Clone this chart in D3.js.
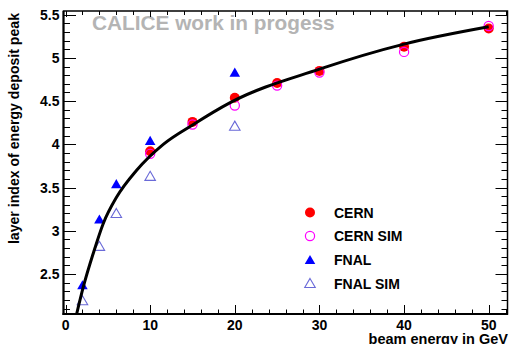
<!DOCTYPE html>
<html>
<head>
<meta charset="utf-8">
<script src="https://cdn.jsdelivr.net/npm/d3@7"></script>
<style>
  body { margin: 0; background: #fff; }
  svg { display: block; font-family: "Liberation Sans", Arial, sans-serif; font-weight: bold; }
</style>
</head>
<body>
<script>
// beam energies (GeV) and layer index of peak
var cernE = [10, 15, 20, 25, 30, 40, 50]
var cernY = [3.92, 4.26, 4.54, 4.71, 4.85, 5.13, 5.34]
var cernSimE = [10, 15, 20, 25, 30, 40, 50]
var cernSimY = [3.89, 4.23, 4.45, 4.68, 4.83, 5.07, 5.37]
var fnalE = [2, 4, 6, 10, 20]
var fnalY = [2.37, 3.13, 3.54, 4.04, 4.83]
var fnalSimE = [2, 4, 6, 10, 20]
var fnalSimY = [2.19, 2.82, 3.20, 3.63, 4.21]
// fit curve
var fitE = [1.32, 2.1, 3.28, 4.46, 6.04, 8.4, 11.55, 15.1, 19.4, 30, 40, 50]
var fitY = [2.04, 2.35, 2.74, 3.085, 3.39, 3.70, 4.0, 4.23, 4.48, 4.87, 5.16, 5.36]

var xTicks = [0, 10, 20, 30, 40, 50]
var yTicks = [2.5, 3, 3.5, 4, 4.5, 5, 5.5]
var legendNames = ['CERN', 'CERN SIM', 'FNAL', 'FNAL SIM']

var W = 509, H = 344
var padL = 63.5, padR = 508, padT = 11, padB = 314

var svg = d3.select(document.body).append('svg')
  .attr('width', W).attr('height', H)

var x = d3.scaleLinear().domain([-0.24, 52.28]).range([padL, padR])
var y = d3.scaleLinear().domain([2.037, 5.543]).range([padB, padT])

svg.append('clipPath').attr('id', 'clip').append('rect')
  .attr('x', padL).attr('y', padT).attr('width', padR - padL).attr('height', padB - padT)

// watermark
svg.append('text').attr('x', 92).attr('y', 30)
  .attr('font-size', 20.8).attr('fill', '#b4b4b4')
  .text('CALICE work in progess')

// ticks
var xMinor = d3.range(0, 52.3, 2)
var yMinor = d3.range(2.1, 5.55, 0.1)
var tk = svg.append('g').attr('stroke', '#000').attr('stroke-width', 1)
xMinor.forEach(function(v) {
  var major = xTicks.indexOf(Math.round(v)) >= 0
  var px = Math.round(x(v)) + 0.5
  tk.append('line').attr('x1', px).attr('x2', px).attr('y1', padB).attr('y2', padB - (major ? 9 : 4.5))
  tk.append('line').attr('x1', px).attr('x2', px).attr('y1', padT).attr('y2', padT + (major ? 6 : 4))
})
yMinor.forEach(function(v) {
  var major = Math.abs(v * 2 - Math.round(v * 2)) < 0.01
  var py = Math.round(y(v)) + 0.5
  tk.append('line').attr('x1', padL).attr('x2', padL + (major ? 12.5 : 6.5)).attr('y1', py).attr('y2', py)
  tk.append('line').attr('x1', padR).attr('x2', padR - (major ? 12.5 : 6.5)).attr('y1', py).attr('y2', py)
})

// frame
svg.append('rect').attr('x', padL).attr('y', padT).attr('width', padR - padL - 0.5).attr('height', padB - padT)
  .attr('fill', 'none').attr('stroke', '#000').attr('stroke-width', 1.5)
svg.append('line').attr('x1', padL).attr('x2', padL).attr('y1', padT).attr('y2', padB + 1)
  .attr('stroke', '#000').attr('stroke-width', 2)
svg.append('line').attr('x1', padL - 1).attr('x2', padR).attr('y1', padB).attr('y2', padB)
  .attr('stroke', '#000').attr('stroke-width', 2)

// tick labels
svg.selectAll('text.xl').data(xTicks).enter().append('text')
  .attr('class', 'xl')
  .attr('x', function(d) { return x(d) }).attr('y', 330)
  .attr('text-anchor', 'middle').attr('font-size', 14)
  .text(function(d) { return d })
svg.selectAll('text.yl').data(yTicks).enter().append('text')
  .attr('class', 'yl')
  .attr('x', 59.5).attr('y', function(d) { return y(d) + 5 })
  .attr('text-anchor', 'end').attr('font-size', 14)
  .text(function(d) { return d })

// axis titles
svg.append('text').attr('x', 508).attr('y', 343.5)
  .attr('text-anchor', 'end').attr('font-size', 14.5)
  .text('beam energy in GeV')
svg.append('text').attr('transform', 'translate(19,13) rotate(-90)')
  .attr('text-anchor', 'end').attr('font-size', 14.1)
  .text('layer index of energy deposit peak')

// markers
var tri = d3.symbol().type(d3.symbolTriangle).size(48)
var plot = svg.append('g').attr('clip-path', 'url(#clip)')

function circles(xs, ys, filled, color) {
  plot.append('g').selectAll('circle').data(xs).enter().append('circle')
    .attr('cx', function(d) { return x(d) })
    .attr('cy', function(d, i) { return y(ys[i]) })
    .attr('r', filled ? 5 : 4.6)
    .attr('fill', filled ? color : 'none')
    .attr('stroke', filled ? 'none' : color)
    .attr('stroke-width', 1.2)
}
function triangles(xs, ys, filled, color) {
  plot.append('g').selectAll('path').data(xs).enter().append('path')
    .attr('d', tri)
    .attr('transform', function(d, i) { return 'translate(' + x(d) + ',' + (y(ys[i]) + 1) + ')' })
    .attr('fill', filled ? color : 'none')
    .attr('stroke', filled ? 'none' : color)
    .attr('stroke-width', 1.1)
}

circles(cernE, cernY, true, '#ff0000')
circles(cernSimE, cernSimY, false, '#ff00ff')
triangles(fnalE, fnalY, true, '#0000ff')
triangles(fnalSimE, fnalSimY, false, '#6a6ad8')

// fit curve
var line = d3.line()
  .x(function(d) { return x(d) })
  .y(function(d, i) { return y(fitY[i]) })
  .curve(d3.curveMonotoneX)
plot.append('path').datum(fitE).attr('d', line)
  .attr('fill', 'none').attr('stroke', '#000').attr('stroke-width', 3)

// legend
var legY = [212.5, 236, 260, 283.5]
var lg = svg.append('g')
legendNames.forEach(function(name, i) {
  var cy = legY[i]
  if (i == 0) lg.append('circle').attr('cx', 310).attr('cy', cy).attr('r', 5).attr('fill', '#ff0000')
  if (i == 1) lg.append('circle').attr('cx', 310).attr('cy', cy).attr('r', 4.6).attr('fill', 'none').attr('stroke', '#ff00ff').attr('stroke-width', 1.2)
  if (i == 2) lg.append('path').attr('d', tri).attr('transform', 'translate(310,' + (cy + 1) + ')').attr('fill', '#0000ff')
  if (i == 3) lg.append('path').attr('d', tri).attr('transform', 'translate(310,' + (cy + 1) + ')').attr('fill', 'none').attr('stroke', '#6a6ad8').attr('stroke-width', 1.1)
  lg.append('text').attr('x', 334).attr('y', cy + 5.3).attr('font-size', 14).text(name)
})
</script>
</body>
</html>
